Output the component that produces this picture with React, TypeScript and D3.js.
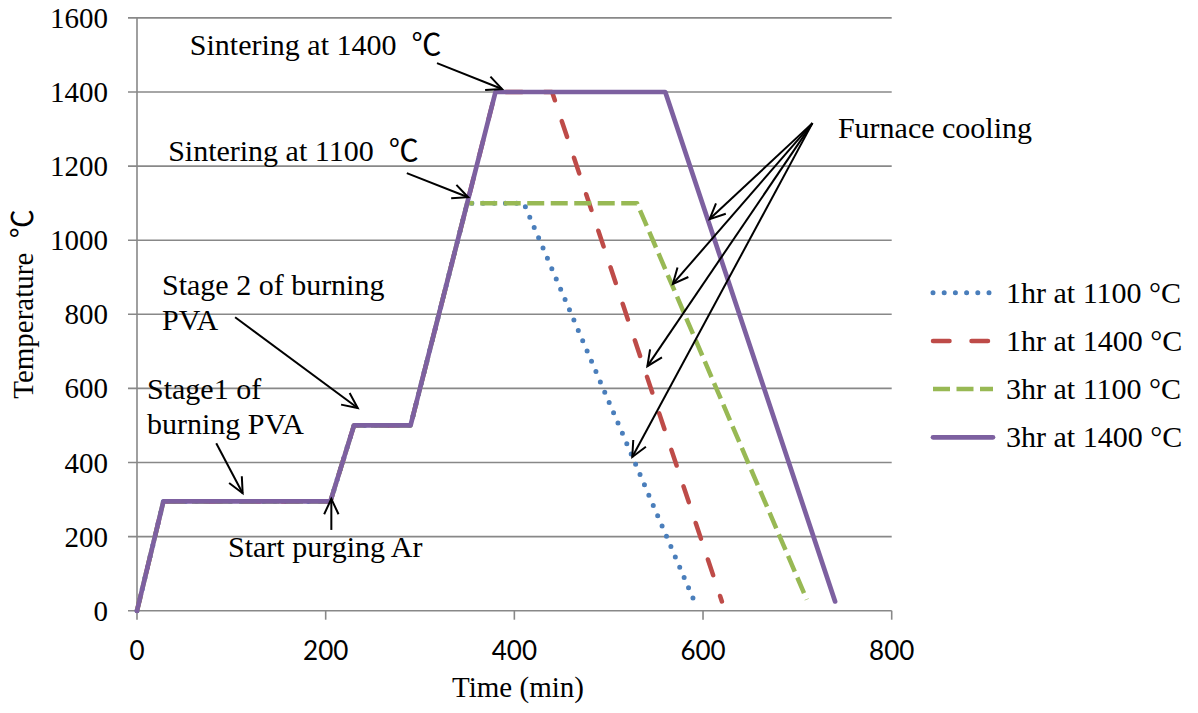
import React from "react";
import * as d3 from "d3";

const W = 1198;
const H = 713;

// Data (time in min, temperature in °C)
const time1hr1100 = [0, 28, 205, 230, 290, 350, 410, 590];
const temp1hr1100 = [0, 295, 295, 500, 500, 1100, 1100, 30];
const time1hr1400 = [0, 28, 205, 230, 290, 380, 440, 620];
const temp1hr1400 = [0, 295, 295, 500, 500, 1400, 1400, 25];
const time3hr1100 = [0, 28, 205, 230, 290, 350, 530, 710];
const temp3hr1100 = [0, 295, 295, 500, 500, 1100, 1100, 30];
const time3hr1400 = [0, 28, 205, 230, 290, 380, 560, 740];
const temp3hr1400 = [0, 295, 295, 500, 500, 1400, 1400, 25];

const seriesNames = ["1hr at 1100 °C", "1hr at 1400 °C", "3hr at 1100 °C", "3hr at 1400 °C"];
const xTicks = [0, 200, 400, 600, 800];
const yTicks = [0, 200, 400, 600, 800, 1000, 1200, 1400, 1600];

// Annotations (data coordinates)
const annoTexts = [
  { lines: ["Sintering at 1400\u00A0 ℃"], at: [56, 1500] },
  { lines: ["Sintering at 1100\u00A0 ℃"], at: [33, 1213] },
  { lines: ["Stage 2 of burning", "PVA"], at: [26.5, 852] },
  { lines: ["Stage1 of", "burning PVA"], at: [10.6, 571] },
  { lines: ["Start purging Ar"], at: [96.5, 145] },
  { lines: ["Furnace cooling"], at: [743, 1276] },
];
const annoArrows = [
  { from: [318, 1478], to: [387, 1408] },
  { from: [286, 1181], to: [351, 1116] },
  { from: [104, 792], to: [234, 547] },
  { from: [84, 452], to: [112, 317] },
  { from: [206, 218], to: [206, 302] },
  { from: [716, 1316], to: [607, 1057] },
  { from: [716, 1316], to: [568, 882] },
  { from: [716, 1316], to: [541, 660] },
  { from: [716, 1316], to: [525, 415] },
];

const colors = ["#4A7EBB", "#BE4B48", "#98B954", "#7D60A0"];
const widths = [5, 4.5, 4.5, 4.7];
const dashes = ["0 11.2", "16.5 22", "17 6.5", null];
const caps = ["round", "round", "butt", "round"];

const serif = "'Liberation Serif', 'Times New Roman', 'Noto Sans CJK SC', serif";
const sans = "Lato, 'Liberation Sans', sans-serif";

export default function App() {
  const x0 = 137, x1 = 891.7, y0 = 610.7, y1 = 17.9;
  const x = d3.scaleLinear().domain([0, 800]).range([x0, x1]);
  const y = d3.scaleLinear().domain([0, 1600]).range([y0, y1]);

  const series = [
    d3.zip(time1hr1100, temp1hr1100),
    d3.zip(time1hr1400, temp1hr1400),
    d3.zip(time3hr1100, temp3hr1100),
    d3.zip(time3hr1400, temp3hr1400),
  ];
  const line = d3
    .line<number[]>()
    .x((d) => x(d[0]))
    .y((d) => y(d[1]));

  const grid = "#888888";
  const legendY = [292.7, 340.9, 389.1, 437.3];

  const arrowHead = (fx: number, fy: number, tx: number, ty: number) => {
    const ang = Math.atan2(fy - ty, fx - tx);
    const L = 17;
    const a = (25 * Math.PI) / 180;
    const p1 = [tx + L * Math.cos(ang + a), ty + L * Math.sin(ang + a)];
    const p2 = [tx + L * Math.cos(ang - a), ty + L * Math.sin(ang - a)];
    return `M${p1[0]},${p1[1]}L${tx},${ty}L${p2[0]},${p2[1]}`;
  };

  return (
    <svg
      width={W}
      height={H}
      style={{ position: "absolute", left: 0, top: 0, background: "#fff" }}
    >
      <rect x={0} y={0} width={W} height={H} fill="#fff" />
      {/* gridlines */}
      {yTicks.map((t) => (
        <line key={"g" + t} x1={x0 - 9} x2={x1} y1={y(t)} y2={y(t)} stroke={grid} strokeWidth={1.6} />
      ))}
      {/* y axis */}
      <line x1={x0} x2={x0} y1={y1} y2={y0} stroke={grid} strokeWidth={1.6} />
      {/* x ticks */}
      {xTicks.map((t) => (
        <line key={"xt" + t} x1={x(t)} x2={x(t)} y1={y0} y2={y0 + 9} stroke={grid} strokeWidth={1.6} />
      ))}
      {yTicks.map((t) => (
        <text key={"yl" + t} x={108} y={y(t) + 10} textAnchor="end" fontFamily={serif} fontSize={29} fill="#000">
          {t}
        </text>
      ))}
      {xTicks.map((t) => (
        <text key={"xl" + t} x={x(t)} y={659.5} textAnchor="middle" fontFamily={sans} fontSize={26} fill="#000">
          {t}
        </text>
      ))}
      <text x={518} y={697} textAnchor="middle" fontFamily={serif} fontSize={29} fill="#000">
        Time (min)
      </text>
      <text
        transform={`translate(33,304) rotate(-90)`}
        textAnchor="middle"
        fontFamily={serif}
        fontSize={29}
        fill="#000"
      >
        {"Temperature\u00A0 ℃"}
      </text>

      {/* series */}
      {series.map((s, i) => (
        <path
          key={"s" + i}
          d={line(s) || ""}
          fill="none"
          stroke={colors[i]}
          strokeWidth={widths[i]}
          strokeDasharray={dashes[i] || undefined}
          strokeLinecap={caps[i] as any}
          strokeLinejoin="round"
        />
      ))}

      {/* annotations */}
      {annoArrows.map((a, i) => {
        const fx = x(a.from[0]), fy = y(a.from[1]), tx = x(a.to[0]), ty = y(a.to[1]);
        return (
          <g key={"a" + i} stroke="#000" strokeWidth={2} fill="none">
            <line x1={fx} y1={fy} x2={tx} y2={ty} />
            <path d={arrowHead(fx, fy, tx, ty)} />
          </g>
        );
      })}
      {annoTexts.map((t, i) => (
        <text key={"t" + i} x={x(t.at[0])} y={y(t.at[1])} fontFamily={serif} fontSize={30} fill="#000">
          {t.lines.map((l, j) => (
            <tspan key={j} x={x(t.at[0])} dy={j === 0 ? 0 : 35}>
              {l}
            </tspan>
          ))}
        </text>
      ))}

      {/* legend */}
      {seriesNames.map((n, i) => (
        <g key={"l" + i}>
          <line
            x1={933}
            x2={993}
            y1={legendY[i]}
            y2={legendY[i]}
            stroke={colors[i]}
            strokeWidth={widths[i]}
            strokeDasharray={dashes[i] || undefined}
            strokeLinecap={caps[i] as any}
          />
          <text x={1006} y={legendY[i] + 10} fontFamily={serif} fontSize={30} fill="#000">
            {n}
          </text>
        </g>
      ))}
    </svg>
  );
}
